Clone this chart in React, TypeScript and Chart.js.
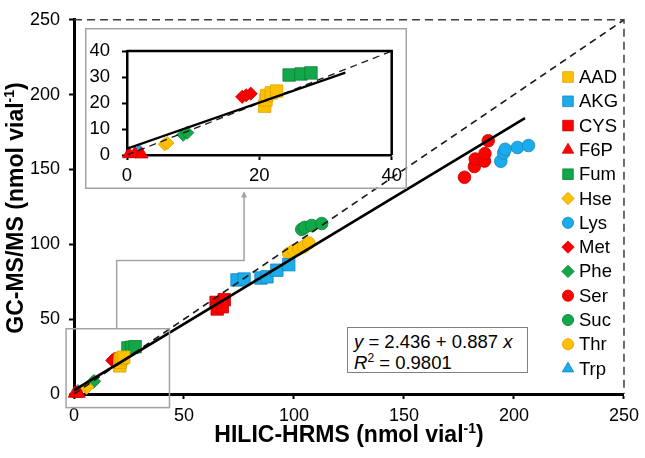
import React, { useEffect, useRef } from "react";
import { Chart, registerables } from "chart.js";

Chart.register(...registerables);

const FONT = "Arial, 'Liberation Sans', Helvetica, sans-serif";

// ---------------- data (x = HILIC-HRMS, y = GC-MS/MS, nmol vial-1) ----------------
const SERIES_NAMES = ["AAD", "AKG", "CYS", "F6P", "Fum", "Hse", "Lys", "Met", "Phe", "Ser", "Suc", "Thr", "Trp"];

const AAD = [[20.8, 18.8], [21.0, 21.2], [21.1, 22.9], [21.8, 23.9], [22.6, 24.6]];
const AKG = [[74.1, 76.2], [77.3, 76.8], [85.0, 77.5], [87.7, 78.3], [92.2, 82.7], [97.6, 86.4]];
const CYS = [[64.6, 61.2], [68.3, 63.0], [65.1, 56.8], [67.4, 58.3]];
const F6P = [[0.3, 0.4], [1.2, 0.5], [2.2, 0.3]];
const FUM = [[24.5, 30.8], [26.3, 31.2], [27.8, 31.6]];
const HSE = [[5.7, 4.1], [6.1, 4.6]];
const LYS = [[194.0, 155.5], [195.3, 161.0], [196.0, 163.5], [201.6, 164.7], [206.6, 166.0]];
const MET = [[17.4, 22.4], [18.0, 23.0], [18.7, 23.6]];
const PHE = [[8.5, 7.8], [9.1, 8.6]];
const SER = [[177.5, 144.8], [182.0, 152.0], [182.4, 157.0], [186.6, 155.6], [186.8, 160.6], [188.3, 169.2]];
const SUC = [[103.5, 110.0], [104.9, 111.3], [108.0, 112.6], [112.6, 113.9]];
const THR = [[97.6, 93.8], [99.9, 95.7], [102.2, 97.0], [104.4, 98.3], [106.7, 100.9]];
const TRP = [[1.8, 1.4]];

const SERIES_VALUES = [AAD, AKG, CYS, F6P, FUM, HSE, LYS, MET, PHE, SER, SUC, THR, TRP];
const SERIES_SHAPES = ["rect", "rect", "rect", "triangle", "rect", "rectRot", "circle", "rectRot", "rectRot", "circle", "circle", "circle", "triangle"];

const ORANGE = "#FFC000";
const BLUE = "#1CABEB";
const RED = "#FF0000";
const GREEN = "#12A84A";
const SERIES_COLORS = [ORANGE, BLUE, RED, RED, GREEN, ORANGE, BLUE, RED, GREEN, RED, GREEN, ORANGE, BLUE];
const EDGE: Record<string, string> = { [ORANGE]: "#D9A200", [BLUE]: "#1487BE", [RED]: "#C80000", [GREEN]: "#0B8138" };

const MAIN_TICKS = [0, 50, 100, 150, 200, 250];
const INSET_X_TICKS = [0, 20, 40];
const INSET_Y_TICKS = [0, 10, 20, 30, 40];

const IDENTITY_MAIN = [0, 250];
const IDENTITY_INSET = [0, 40];
const FIT_MAIN_X = [0, 205];
const FIT_MAIN_Y = [2.44, 184.3];
const FIT_INSET_X = [0, 33];
const FIT_INSET_Y = [2.44, 31.7];

const EQ_INTERCEPT = "2.436";
const EQ_SLOPE = "0.887";
const EQ_R2 = "0.9801";

const X_TITLE = "HILIC-HRMS (nmol vial";
const Y_TITLE = "GC-MS/MS (nmol vial";
const UNIT_SUP = "-1";

// ---------------- helpers ----------------
const RADIUS: Record<string, number> = { rect: 8.8, circle: 6.3, rectRot: 6.6, triangle: 7.5 };
const LEGEND_RADIUS: Record<string, number> = { rect: 7.5, circle: 5.6, rectRot: 6.2, triangle: 6.6 };

function pointSets() {
  return SERIES_NAMES.map((name, i) => {
    const shape = SERIES_SHAPES[i];
    return {
      label: name,
      data: SERIES_VALUES[i].map(([x, y]) => ({ x, y })),
      pointStyle: shape,
      pointRadius: RADIUS[shape],
      pointHoverRadius: RADIUS[shape],
      backgroundColor: SERIES_COLORS[i],
      borderColor: EDGE[SERIES_COLORS[i]],
      borderWidth: 0.8,
      showLine: false,
      clip: false as any,
      order: 5,
    };
  });
}

function lineSet(xs: number[], ys: number[], dashed: boolean, width: number) {
  return {
    label: dashed ? "1:1" : "fit",
    data: xs.map((x, i) => ({ x, y: ys[i] })),
    showLine: true,
    borderColor: dashed ? "#1a1a1a" : "#000",
    borderWidth: width,
    borderDash: dashed ? [7, 5] : [],
    pointRadius: 0,
    pointHoverRadius: 0,
    fill: false,
    order: dashed ? 1 : 0,
  };
}

function drawMarker(ctx: CanvasRenderingContext2D, shape: string, x: number, y: number, r: number, fill: string, stroke: string) {
  ctx.beginPath();
  if (shape === "circle") {
    ctx.arc(x, y, r, 0, Math.PI * 2);
  } else if (shape === "rect") {
    const s = r * Math.SQRT1_2;
    ctx.rect(x - s, y - s, 2 * s, 2 * s);
  } else if (shape === "rectRot") {
    ctx.moveTo(x - r, y);
    ctx.lineTo(x, y - r);
    ctx.lineTo(x + r, y);
    ctx.lineTo(x, y + r);
    ctx.closePath();
  } else {
    ctx.moveTo(x, y - r);
    ctx.lineTo(x + r * 0.866, y + r * 0.5);
    ctx.lineTo(x - r * 0.866, y + r * 0.5);
    ctx.closePath();
  }
  ctx.fillStyle = fill;
  ctx.fill();
  ctx.lineWidth = 0.8;
  ctx.strokeStyle = stroke;
  ctx.stroke();
}

function drawSupTitle(ctx: CanvasRenderingContext2D, main: string, sup: string, cx: number, cy: number) {
  const big = `bold 23px ${FONT}`;
  const small = `bold 14px ${FONT}`;
  ctx.font = big;
  const w1 = ctx.measureText(main).width;
  const w3 = ctx.measureText(")").width;
  ctx.font = small;
  const w2 = ctx.measureText(sup).width;
  const total = w1 + w2 + w3;
  let x = cx - total / 2;
  ctx.fillStyle = "#000";
  ctx.textAlign = "left";
  ctx.textBaseline = "middle";
  ctx.font = big;
  ctx.fillText(main, x, cy);
  x += w1;
  ctx.font = small;
  ctx.fillText(sup, x, cy - 7);
  x += w2;
  ctx.font = big;
  ctx.fillText(")", x, cy);
}

const ticksFrom = (vals: number[]) => (s: any) => {
  s.ticks = vals.map((v) => ({ value: v }));
};

// zoom box around the origin in main-chart data units, and connector path
const ZOOM_BOX = { x0: -3.6, x1: 43.4, y0: -9.1, y1: 43.6 };
const CONNECTOR = [[19.4, 43.6], [19.4, 89.2], [77.3, 89.2], [77.3, 134.6]];

const mainDecor = {
  id: "mainDecor",
  afterDraw(chart: any) {
    const { ctx, chartArea: a, scales } = chart;
    const xs = scales.x;
    const ys = scales.y;
    ctx.save();
    // dashed top & right frame
    ctx.setLineDash([8, 5]);
    ctx.strokeStyle = "#3c3c3c";
    ctx.lineWidth = 1.5;
    ctx.beginPath();
    ctx.moveTo(a.left, a.top);
    ctx.lineTo(a.right, a.top);
    ctx.lineTo(a.right, a.bottom);
    ctx.stroke();
    ctx.setLineDash([]);

    // zoom box + connector
    ctx.strokeStyle = "#A3A3A3";
    ctx.lineWidth = 1.5;
    const bx0 = xs.getPixelForValue(ZOOM_BOX.x0);
    const bx1 = xs.getPixelForValue(ZOOM_BOX.x1);
    const by0 = ys.getPixelForValue(ZOOM_BOX.y0);
    const by1 = ys.getPixelForValue(ZOOM_BOX.y1);
    ctx.strokeRect(bx0, by1, bx1 - bx0, by0 - by1);
    ctx.beginPath();
    CONNECTOR.forEach(([vx, vy], i) => {
      const px = xs.getPixelForValue(vx);
      const py = ys.getPixelForValue(vy);
      if (i === 0) ctx.moveTo(px, py);
      else ctx.lineTo(px, py);
    });
    ctx.stroke();
    const last = CONNECTOR[CONNECTOR.length - 1];
    const ax = xs.getPixelForValue(last[0]);
    const ay = ys.getPixelForValue(last[1]);
    ctx.fillStyle = "#A3A3A3";
    ctx.beginPath();
    ctx.moveTo(ax, ay - 1);
    ctx.lineTo(ax + 3, ay + 5);
    ctx.lineTo(ax - 3, ay + 5);
    ctx.closePath();
    ctx.fill();

    // axis titles
    drawSupTitle(ctx, X_TITLE, UNIT_SUP, (a.left + a.right) / 2, 436);
    ctx.save();
    ctx.translate(17, 208);
    ctx.rotate(-Math.PI / 2);
    drawSupTitle(ctx, Y_TITLE, UNIT_SUP, 0, 0);
    ctx.restore();

    // legend
    const lx = 568;
    const ly0 = 77;
    const dy = 24.3;
    ctx.font = `18.5px ${FONT}`;
    SERIES_NAMES.forEach((name, i) => {
      const y = ly0 + i * dy;
      const shape = SERIES_SHAPES[i];
      drawMarker(ctx, shape, lx, y, LEGEND_RADIUS[shape], SERIES_COLORS[i], EDGE[SERIES_COLORS[i]]);
      ctx.fillStyle = "#000";
      ctx.textAlign = "left";
      ctx.textBaseline = "middle";
      ctx.fillText(name, 579, y + 1);
    });
    ctx.restore();
  },
};

const insetDecor = {
  id: "insetDecor",
  afterDraw(chart: any) {
    const { ctx, chartArea: a, width, height } = chart;
    ctx.save();
    ctx.strokeStyle = "#A3A3A3";
    ctx.lineWidth = 1.5;
    ctx.strokeRect(0.75, 0.75, width - 1.5, height - 1.5);
    ctx.strokeStyle = "#000";
    ctx.lineWidth = 2.5;
    ctx.beginPath();
    ctx.moveTo(a.left, a.top);
    ctx.lineTo(a.right, a.top);
    ctx.lineTo(a.right, a.bottom);
    ctx.stroke();
    ctx.restore();
  },
};

function axis(min: number, max: number, ticks: number[], fontSize: number, padding: number, borderW: number, fit: (s: any) => void) {
  return {
    type: "linear" as const,
    min,
    max,
    afterBuildTicks: ticksFrom(ticks),
    afterFit: fit,
    grid: { display: true, drawOnChartArea: false, drawTicks: true, tickLength: 5, tickWidth: 2, tickColor: "#000" },
    border: { display: true, color: "#000", width: borderW },
    ticks: { color: "#000", font: { family: FONT, size: fontSize }, padding, maxRotation: 0, autoSkip: false },
  };
}

export default function App() {
  const mainRef = useRef<HTMLCanvasElement>(null);
  const insetRef = useRef<HTMLCanvasElement>(null);

  useEffect(() => {
    const main = new Chart(mainRef.current as HTMLCanvasElement, {
      type: "scatter",
      data: {
        datasets: [
          ...pointSets(),
          lineSet(IDENTITY_MAIN, IDENTITY_MAIN, true, 1.6),
          lineSet(FIT_MAIN_X, FIT_MAIN_Y, false, 2.6),
        ] as any,
      },
      options: {
        animation: false,
        responsive: false,
        devicePixelRatio: 1,
        events: [],
        layout: { padding: { left: 0, right: 18, top: 10, bottom: 0 }, autoPadding: false } as any,
        plugins: { legend: { display: false }, tooltip: { enabled: false } },
        scales: {
          x: axis(0, 250, MAIN_TICKS, 18, 6, 3, (s: any) => { s.height = 64; }) as any,
          y: axis(0, 250, MAIN_TICKS, 18, 9, 3, (s: any) => { s.width = 74; }) as any,
        },
      },
      plugins: [mainDecor],
    });

    const inset = new Chart(insetRef.current as HTMLCanvasElement, {
      type: "scatter",
      data: {
        datasets: [
          ...pointSets(),
          lineSet(IDENTITY_INSET, IDENTITY_INSET, true, 1.3),
          lineSet(FIT_INSET_X, FIT_INSET_Y, false, 2.2),
        ] as any,
      },
      options: {
        animation: false,
        responsive: false,
        devicePixelRatio: 1,
        events: [],
        layout: { padding: { left: 0, right: 14, top: 10, bottom: 0 }, autoPadding: false } as any,
        plugins: { legend: { display: false }, tooltip: { enabled: false } },
        scales: {
          x: axis(0, 40, INSET_X_TICKS, 18.5, 5, 2.5, (s: any) => { s.height = 34; }) as any,
          y: axis(0, 40, INSET_Y_TICKS, 18.5, 12, 2.5, (s: any) => { s.width = 42; }) as any,
        },
      },
      plugins: [insetDecor],
    });

    return () => {
      main.destroy();
      inset.destroy();
    };
  }, []);

  return (
    <div style={{ position: "fixed", left: 0, top: 0, width: 645, height: 458, background: "#fff", overflow: "hidden" }}>
      <canvas ref={mainRef} width={645} height={458} style={{ position: "absolute", left: 0, top: 0 }} />
      <canvas ref={insetRef} width={322} height={161} style={{ position: "absolute", left: 85, top: 28 }} />
      <div
        style={{
          position: "absolute",
          left: 347,
          top: 327,
          width: 181,
          height: 46,
          boxSizing: "border-box",
          border: "1px solid #808080",
          background: "#fff",
          fontFamily: FONT,
          fontSize: "18.5px",
          lineHeight: "21px",
          padding: "3px 0 0 6px",
          color: "#000",
          whiteSpace: "nowrap",
        }}
      >
        <div>
          <i>y</i> = {EQ_INTERCEPT} + {EQ_SLOPE} <i>x</i>
        </div>
        <div>
          <i>R</i>
          <span style={{ fontSize: "12px", position: "relative", top: "-7px" }}>2</span> = {EQ_R2}
        </div>
      </div>
    </div>
  );
}
